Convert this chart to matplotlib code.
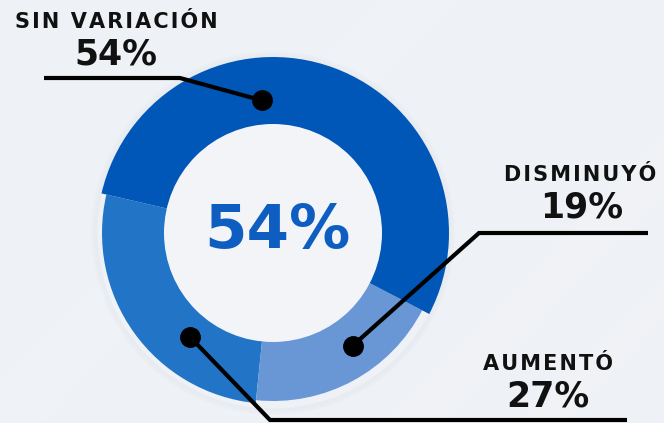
import numpy as np
import matplotlib
matplotlib.use("Agg")
import matplotlib.pyplot as plt
from matplotlib.patches import Circle, Polygon

# ---- data ----
categories = ["SIN VARIACIÓN", "DISMINUYÓ", "AUMENTÓ"]
values = [54, 19, 27]
value_labels = ["54%", "19%", "27%"]
center_label = "54%"

colors = {"SIN VARIACIÓN": "#0157b8", "DISMINUYÓ": "#6996d4", "AUMENTÓ": "#2274c6"}
radii = {"SIN VARIACIÓN": 176, "DISMINUYÓ": 168, "AUMENTÓ": 171}

W, H = 664, 423
fig = plt.figure(figsize=(W / 100, H / 100), dpi=100)
fig.patch.set_facecolor("#eef1f5")
ax = fig.add_axes([0, 0, 1, 1])
ax.set_facecolor("#eef1f5")

# faint diagonal streaks in background
for (x0, w, a) in [(380, 60, 0.35), (520, 40, 0.3), (-40, 80, 0.25)]:
    ax.add_patch(Polygon([(x0, 0), (x0 + w, 0), (x0 + w + 420, H), (x0 + 420, H)],
                         closed=True, facecolor="white", alpha=a * 0.4, lw=0, zorder=0))

cx, cy = 273, H - 233
order = ["AUMENTÓ", "DISMINUYÓ", "SIN VARIACIÓN"]
vals = [values[categories.index(c)] for c in order]
wedges, _ = ax.pie(vals, colors=[colors[c] for c in order], startangle=167,
                   counterclock=True, center=(cx, cy), radius=170,
                   wedgeprops=dict(linewidth=0))
for w, c in zip(wedges, order):
    w.set_radius(radii[c])
    w.set_zorder(2)

# soft halo around the ring
for k in range(6):
    ax.add_patch(Circle((cx, cy), 176 + k, facecolor="none", edgecolor="#c9d3e0",
                        lw=1, alpha=0.12 - k * 0.015, zorder=1))

# inner circle
ax.add_patch(Circle((cx, cy), 109, facecolor="#f2f4f8", edgecolor="none", zorder=3))
ax.text(cx + 4, cy + 2, center_label, ha="center", va="center", fontsize=44,
        color="#0d5ec0", family="DejaVu Sans", fontweight="semibold", zorder=4)

ax.set_xlim(0, W)
ax.set_ylim(0, H)
ax.set_aspect("auto")
ax.axis("off")

def spaced(s):
    return "\u200a".join(s)

# annotations: (dot angle deg, dot r) relative to center, elbow, line end, text positions
ann = {
    "SIN VARIACIÓN": dict(dot=(94.7, 133), elbow=(180, 78), end=(44, 78),
                          title=(116, 22), val=(116, 54)),
    "DISMINUYÓ": dict(dot=(-54.7, 138), elbow=(479, 233), end=(648, 233),
                      title=(580, 175), val=(582, 207)),
    "AUMENTÓ": dict(dot=(-128.6, 133), elbow=(270, 420), end=(627, 420),
                    title=(548, 364), val=(548, 396)),
}
for c in categories:
    a = ann[c]
    ang, r = a["dot"]
    dx = cx + r * np.cos(np.radians(ang))
    dy = cy + r * np.sin(np.radians(ang))
    ex, ey = a["elbow"][0], H - a["elbow"][1]
    lx, ly = a["end"][0], H - a["end"][1]
    ax.plot([dx, ex, lx], [dy, ey, ly], color="black", lw=3, zorder=5,
            solid_joinstyle="miter", solid_capstyle="butt")
    ax.plot([dx], [dy], "o", color="black", ms=14, zorder=6)
    ax.text(a["title"][0], H - a["title"][1], spaced(c), ha="center", va="center",
            fontsize=15, fontweight="bold", family="DejaVu Sans", color="#111111", zorder=6)
    v = value_labels[categories.index(c)]
    ax.text(a["val"][0], H - a["val"][1], v, ha="center", va="center",
            fontsize=25, fontweight="bold", family="DejaVu Sans", color="#111111", zorder=6)

fig.savefig("out.png", dpi=100, facecolor=fig.get_facecolor())
